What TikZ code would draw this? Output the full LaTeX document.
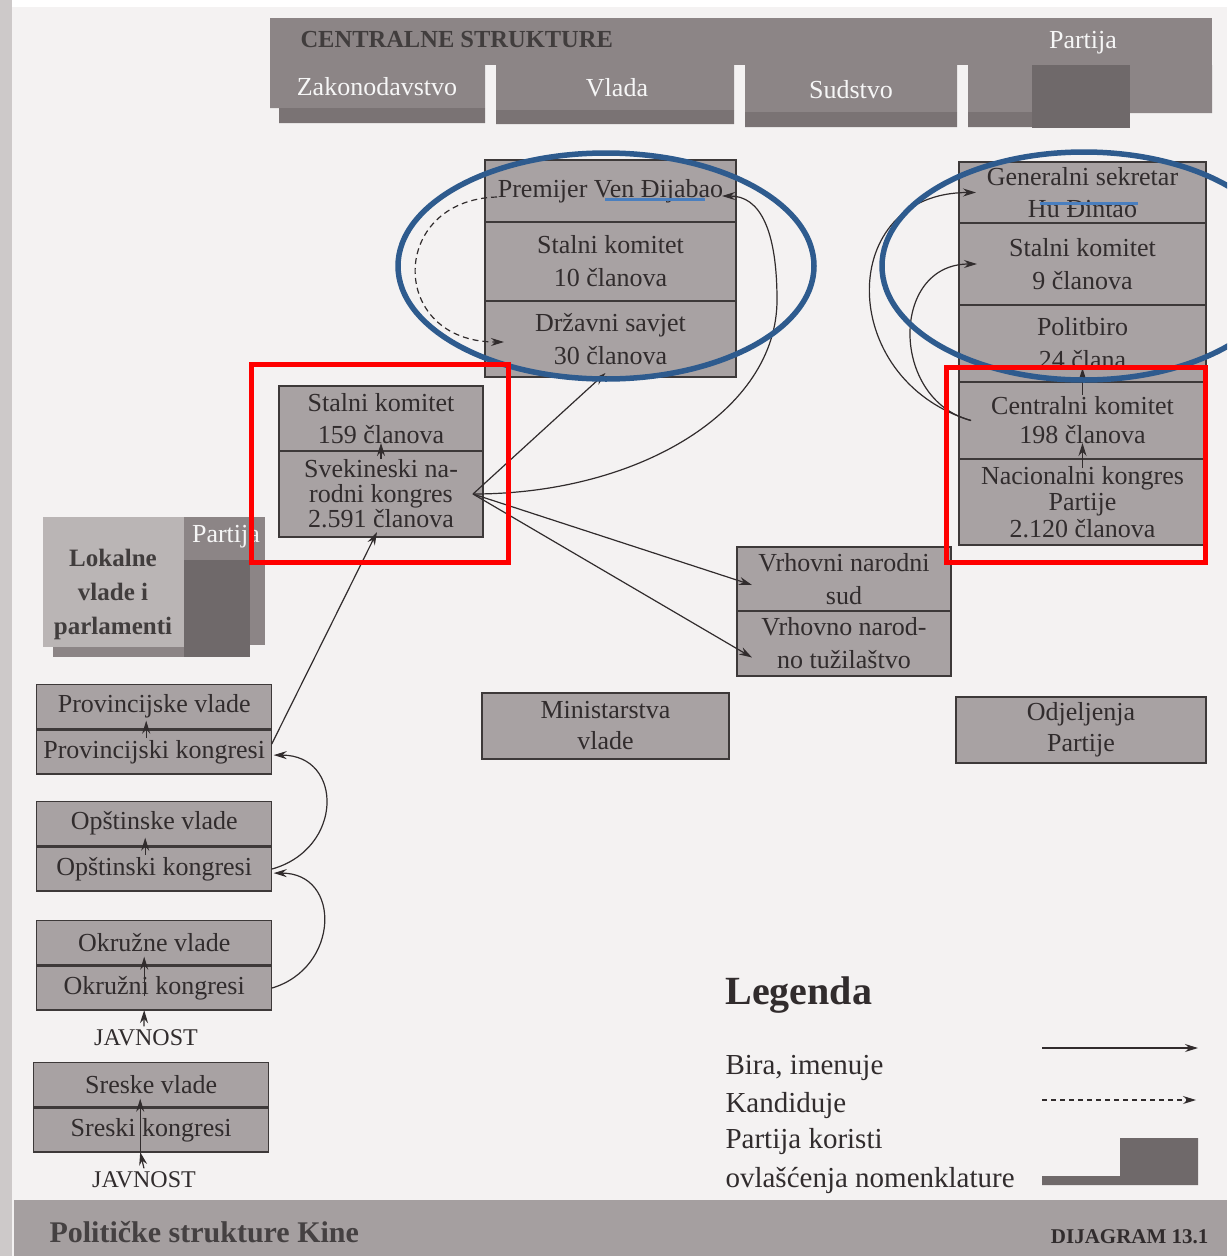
\documentclass[tikz,border=0pt]{standalone}
\usepackage{fontspec}
\setmainfont{Liberation Serif}
\usepackage{xcolor}
\usepackage{tikz}
\usetikzlibrary{matrix,positioning,arrows.meta}
\definecolor{boxgray}{HTML}{A8A2A3}
\definecolor{bandgray}{HTML}{8C8586}
\definecolor{shadegray}{HTML}{7A7374}
\definecolor{darkgray}{HTML}{6F696A}
\definecolor{lightblock}{HTML}{BAB5B5}
\definecolor{inkgray}{HTML}{312C2D}
\definecolor{pagegray}{HTML}{F4F2F2}
\definecolor{edgegray}{HTML}{CDC9C9}
\definecolor{footgray}{HTML}{A59FA0}
\definecolor{ellblue}{HTML}{2E5B8E}
\definecolor{lineblue}{HTML}{4A7FBF}

\begin{document}
\begin{tikzpicture}[x=1pt,y=-1pt,
	box/.style={draw=inkgray!85!gray,line width=1.4pt,fill=boxgray,text=inkgray,align=center,inner sep=0pt,outer sep=0pt,font=\fontsize{26}{33}\selectfont},
	lbox/.style={draw=inkgray!85!gray,line width=1.4pt,fill=boxgray,text=inkgray,inner sep=0pt,outer sep=0pt,minimum width=235,minimum height=44,font=\fontsize{26}{30}\selectfont},
	hdr/.style={text=white!93!gray,font=\fontsize{26}{30}\selectfont},
	arr/.style={inkgray,line width=1.2pt,-{Stealth[length=13pt,width=8pt]}},
	pub/.style={text=inkgray,font=\fontsize{24}{28}\selectfont},
	leg/.style={anchor=west,text=inkgray,font=\fontsize{29}{33}\selectfont}]
		\useasboundingbox (0,0) rectangle (1227,1256);
		\clip (0,0) rectangle (1227,1256);
		\fill[white] (0,0) rectangle (1227,1256);
		\fill[pagegray] (0,7) rectangle (1227,1256);
		\fill[edgegray] (0,0) rectangle (12,1256);
		% banner
		\fill[bandgray] (270,18) rectangle (1212,65);
		\fill[bandgray] (270,65) rectangle (485,108) (496,65) rectangle (734,110) (745,65) rectangle (957,112) (968,65) rectangle (1032,112) (1130,65) rectangle (1212,113);
		\fill[shadegray] (279,108) rectangle (485,123) (496,110) rectangle (734,124) (745,112) rectangle (957,127) (968,112) rectangle (1032,127);
		\fill[darkgray] (1032,65) rectangle (1130,128);
		\node[anchor=west,text=inkgray!80!gray,font=\fontsize{24.5}{30}\selectfont\bfseries] (cen) at (297,40) {CENTRALNE STRUKTURE};
		\node[hdr] (zak) at (377,87) {Zakonodavstvo};
		\node[hdr] (vla) at (617,88) {Vlada};
		\node[hdr] (sds) at (851,90) {Sudstvo};
		\node[hdr] (par) at (1083,43) {Partija};
		% lokalne
		\fill[bandgray] (53,530) rectangle (250,657);
		\fill[bandgray] (184,517) rectangle (265,645);
		\fill[darkgray] (184,560) rectangle (250,657);
		\fill[lightblock] (43,517) rectangle (184,647);
		\node[align=center,text=inkgray!80!gray,font=\fontsize{25}{34}\selectfont\bfseries] (lok) at (113,594) {Lokalne\\vlade i\\parlamenti};
		\node[hdr] (lokp) at (226,537) {Partija};
		% vlada
		\node[box,minimum width=251,minimum height=62,anchor=north west] (prem) at (485,160) {Premijer Ven Đijabao};
		\node[box,minimum width=251,minimum height=79,below=0pt of prem] (vsk) {Stalni komitet\\10 članova};
		\node[box,minimum width=251,minimum height=76,below=0pt of vsk] (drs) {Državni savjet\\30 članova};
		\node[box,minimum width=204,minimum height=65,anchor=north west,font=\fontsize{26}{32}\selectfont] (nsk) at (279,386) {Stalni komitet\\159 članova};
		\node[box,minimum width=204,minimum height=86,below=0pt of nsk,font=\fontsize{26}{25}\selectfont] (npc) {Svekineski na-\\rodni kongres\\2.591 članova};
		\node[box,minimum width=214,minimum height=64,anchor=north west] (vns) at (737,547) {Vrhovni narodni\\sud};
		\node[box,minimum width=214,minimum height=65,below=0pt of vns] (vnt) {Vrhovno narod-\\no tužilaštvo};
		\node[box,minimum width=247,minimum height=66,anchor=north west,font=\fontsize{26}{31}\selectfont] (min) at (482,693) {Ministarstva\\vlade};
		\node[box,minimum width=250,minimum height=66,anchor=north west,font=\fontsize{26}{31}\selectfont] (odj) at (956,697) {Odjeljenja\\Partije};
		% partija
		\node[box,minimum width=247,minimum height=61,anchor=north west,font=\fontsize{26}{32}\selectfont] (gs) at (959,162) {Generalni sekretar\\Hu Đintao};
		\node[box,minimum width=247,minimum height=82,below=0pt of gs] (psk) {Stalni komitet\\9 članova};
		\node[box,minimum width=247,minimum height=77,below=0pt of psk] (pb) {Politbiro\\24 člana};
		\node[box,minimum width=247,minimum height=77,below=0pt of pb,font=\fontsize{26}{29}\selectfont] (ck) {Centralni komitet\\198 članova};
		\node[box,minimum width=247,minimum height=86,below=0pt of ck,font=\fontsize{26}{26.5}\selectfont] (nk) {Nacionalni kongres\\Partije\\2.120 članova};
		% lokalni nivoi
		\matrix (prv) [matrix of nodes,nodes={lbox},inner sep=0pt,outer sep=0pt,anchor=north west] at (36,684)
		{
		Provincijske vlade\\
		Provincijski kongresi\\
		};
		\matrix (ops) [matrix of nodes,nodes={lbox},inner sep=0pt,outer sep=0pt,anchor=north west] at (36,801)
		{
		Opštinske vlade\\
		Opštinski kongresi\\
		};
		\matrix (okr) [matrix of nodes,nodes={lbox},inner sep=0pt,outer sep=0pt,anchor=north west] at (36,920)
		{
		Okružne vlade\\
		Okružni kongresi\\
		};
		\matrix (sre) [matrix of nodes,nodes={lbox},inner sep=0pt,outer sep=0pt,anchor=north west] at (33,1062)
		{
		Sreske vlade\\
		Sreski kongresi\\
		};
		\node[pub] (jav1) at (146,1038) {JAVNOST};
		\node[pub] (jav2) at (144,1180) {JAVNOST};
		% veze
		\coordinate (npcout) at ([xshift=-10pt]npc.east);
		\coordinate (ckin) at ([xshift=12pt]ck.west);
		\coordinate (loop) at (777,300);
		\draw[arr] ([yshift=-8pt]npc.north) -- ([yshift=8pt]nsk.south);
		\draw[arr] (npcout) -- ([xshift=-5pt,yshift=4pt]drs.south);
		\draw[arr] (npcout) .. controls +(167,0) and +(0,110) .. (loop) .. controls +(0,-70) and +(38,0) .. ([xshift=-14pt,yshift=-5pt]prem.east);
		\draw[arr] (npcout) -- ([xshift=15pt,yshift=-6pt]vns.west);
		\draw[arr] (npcout) -- ([xshift=15pt,yshift=-14pt]vnt.west);
		\draw[arr,dash pattern=on 6pt off 4pt] ([xshift=12pt,yshift=-6pt]prem.west) .. controls +(-109,3) and +(-116,0) .. ([xshift=19pt,yshift=-3pt]drs.west);
		\draw[arr] (ckin) .. controls +(-135,-41) and +(-140,0) .. ([xshift=17pt]gs.west);
		\draw[arr] (ckin) .. controls +(-81,-21) and +(-87,0) .. ([xshift=18pt]psk.west);
		\draw[arr] ([yshift=-13pt]ck.north) -- ([yshift=14pt]pb.south);
		\draw[arr] ([yshift=-9pt]nk.north) -- ([yshift=16pt]ck.south);
		\draw[arr] ([yshift=8pt]prv-2-1.east) -- ([xshift=-4pt,yshift=5pt]npc.south);
		\draw[arr] (ops-2-1.east) .. controls +(72,-20) and +(70,0) .. ([xshift=2pt,yshift=-3pt]prv-2-1.east);
		\draw[arr] (okr-2-1.east) .. controls +(68,-20) and +(68,0) .. ([xshift=2pt,yshift=-4pt]ops-2-1.east);
		\draw[arr] ([xshift=-8pt,yshift=-8pt]prv-2-1.north) -- ([xshift=-8pt,yshift=8pt]prv-1-1.south);
		\draw[arr] ([xshift=-9pt,yshift=-8pt]ops-2-1.north) -- ([xshift=-9pt,yshift=8pt]ops-1-1.south);
		\draw[arr] ([xshift=-10pt,yshift=-30pt]okr-2-1.north) -- ([xshift=-10pt,yshift=8pt]okr-1-1.south);
		\draw[arr] ([xshift=-2pt]jav1.north) -- ([xshift=-10pt]okr-2-1.south);
		\draw[arr] ([xshift=-11pt]sre-2-1.south) -- ([xshift=-11pt,yshift=8pt]sre-1-1.south);
		\draw[arr] (jav2.north) -- ([xshift=-11pt]sre-2-1.south);
		% oznake
		\draw[ellblue,line width=5.5pt] (606,266) ellipse [x radius=208,y radius=113];
		\draw[ellblue,line width=5.5pt] (1084,266) ellipse [x radius=202,y radius=114];
		\draw[red,line width=5pt] (251,364) rectangle (508,562);
		\draw[red,line width=5pt] (946,367) rectangle (1205,562);
		\draw[lineblue,line width=3pt] (605,199) -- (705,199);
		\draw[lineblue,line width=3pt] (1040,203) -- (1138,203);
		% legenda
		\node[anchor=west,text=inkgray,font=\fontsize{40}{44}\selectfont\bfseries] (lgd) at (722,995) {Legenda};
		\node[leg] (lg1) at (722,1068) {Bira, imenuje};
		\node[leg] (lg2) at (722,1106) {Kandiduje};
		\node[leg] (lg3) at (722,1142) {Partija koristi};
		\node[leg] (lg4) at (722,1180) {ovlašćenja nomenklature};
		\coordinate (la1) at (1042,1048);
		\coordinate (lb1) at (1198,1048);
		\coordinate (la2) at (1042,1100);
		\coordinate (lb2) at (1196,1100);
		\draw[arr] (la1) -- (lb1);
		\draw[arr,dash pattern=on 5pt off 4pt] (la2) -- (lb2);
		\fill[darkgray] (1120,1138) rectangle (1198,1185) (1042,1176) rectangle (1120,1185);
		% podnozje
		\fill[footgray] (14,1200) rectangle (1227,1256);
		\node[anchor=west,text=inkgray!75!gray,font=\fontsize{30}{34}\selectfont\bfseries] (ftl) at (46,1232) {Političke strukture Kine};
		\node[anchor=east,text=inkgray,font=\fontsize{21}{24}\selectfont\bfseries] (ftr) at (1212,1237) {DIJAGRAM 13.1};
\end{tikzpicture}
\end{document}
